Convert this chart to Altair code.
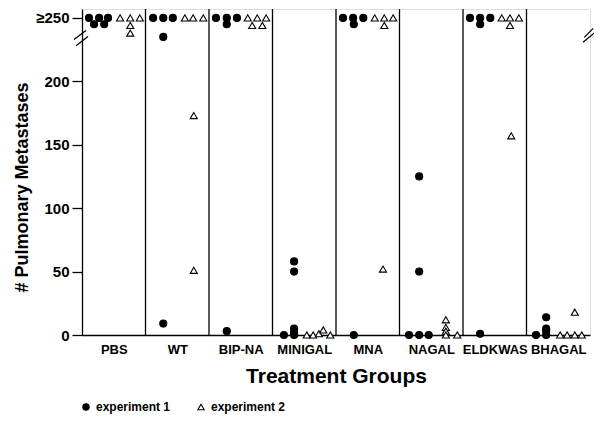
import altair as alt
import pandas as pd

groups = ["PBS", "WT", "BIP-NA", "MINIGAL", "MNA", "NAGAL", "ELDKWAS", "BHAGAL"]
series = ["experiment 1", "experiment 2"]

# experiment 1 (filled circles): group index, horizontal jitter within group, value
exp1_group = [0, 0, 0, 0, 0,
              1, 1, 1, 1, 1,
              2, 2, 2, 2, 2,
              3, 3, 3, 3, 3, 3,
              4, 4, 4, 4, 4,
              5, 5, 5, 5, 5,
              6, 6, 6, 6, 6,
              7, 7, 7, 7, 7]
exp1_jitter = [0.11, 0.27, 0.41, 0.19, 0.35,
               0.12, 0.28, 0.43, 0.28, 0.28,
               0.11, 0.28, 0.44, 0.28, 0.28,
               0.18, 0.34, 0.34, 0.34, 0.34, 0.34,
               0.11, 0.27, 0.43, 0.28, 0.28,
               0.15, 0.31, 0.46, 0.31, 0.31,
               0.11, 0.27, 0.43, 0.27, 0.27,
               0.15, 0.31, 0.31, 0.31, 0.31]
exp1_value = [250, 250, 250, 245, 245,
              250, 250, 250, 235, 9,
              250, 250, 250, 245, 3,
              0, 0, 2, 5, 50, 58,
              250, 250, 250, 245, 0,
              0, 0, 0, 50, 125,
              250, 250, 250, 245, 1,
              0, 0, 3, 5, 14]

# experiment 2 (open triangles)
exp2_group = [0, 0, 0, 0, 0,
              1, 1, 1, 1, 1,
              2, 2, 2, 2, 2,
              3, 3, 3, 3, 3,
              4, 4, 4, 4, 4,
              5, 5, 5, 5, 5,
              6, 6, 6, 6, 6,
              7, 7, 7, 7, 7]
exp2_jitter = [0.60, 0.76, 0.91, 0.76, 0.76,
               0.62, 0.75, 0.91, 0.76, 0.76,
               0.61, 0.76, 0.90, 0.68, 0.84,
               0.54, 0.64, 0.73, 0.80, 0.91,
               0.61, 0.76, 0.90, 0.76, 0.74,
               0.73, 0.73, 0.73, 0.73, 0.91,
               0.61, 0.74, 0.88, 0.74, 0.76,
               0.53, 0.64, 0.76, 0.87, 0.76]
exp2_value = [250, 250, 250, 244, 238,
              250, 250, 250, 173, 51,
              250, 250, 250, 244, 244,
              0, 0, 1, 4, 0,
              250, 250, 250, 244, 52,
              12, 6, 3, 0, 0,
              250, 250, 250, 244, 157,
              0, 0, 0, 0, 18]

y_ticks = [0, 50, 100, 150, 200, 250]

# axis-break marks (data units)
break_x = [-0.126, -0.094, 7.89, 7.91]
break_x2 = [0.063, 0.094, 8.08, 8.05]
break_y = [233, 228, 230.7, 234.6]
break_y2 = [240, 235.4, 238.6, 241.7]

rows = []
for g, j, v in zip(exp1_group, exp1_jitter, exp1_value):
    rows.append({"x": g + j, "value": v, "series": series[0]})
for g, j, v in zip(exp2_group, exp2_jitter, exp2_value):
    rows.append({"x": g + j, "value": v, "series": series[1]})
df = pd.DataFrame(rows)

sep_df = pd.DataFrame({"x": list(range(1, len(groups)))})
brk_df = pd.DataFrame({"x": break_x, "x2": break_x2, "y": break_y, "y2": break_y2})

FONT = "Liberation Sans"
label_expr = "[" + ",".join("'" + g + "'" for g in groups) + "][floor(datum.value)]"

x_scale = alt.Scale(domain=[0, len(groups)], nice=False, zero=False)
y_scale = alt.Scale(domain=[0, 257], nice=False)

x_axis = alt.Axis(
    values=[i + 0.5 for i in range(len(groups))],
    labelExpr=label_expr,
    ticks=False, tickSize=0, grid=False,
    labelFont=FONT, labelFontSize=13, labelFontWeight="bold", labelPadding=8,
    labelColor="black",
    title="Treatment Groups", titleFont=FONT, titleFontSize=21, titleFontWeight="bold",
    titlePadding=9, titleColor="black",
    domainColor="black", domainWidth=1.3,
)
y_axis = alt.Axis(
    values=y_ticks,
    labelExpr="datum.value >= 250 ? '≥250' : datum.label",
    tickSize=10, tickColor="black", tickWidth=1.3, grid=False,
    labelFont=FONT, labelFontSize=15, labelFontWeight="bold", labelPadding=3,
    labelColor="black",
    title="# Pulmonary Metastases", titleFont=FONT, titleFontSize=18,
    titleFontWeight="bold", titlePadding=4, titleColor="black", titleY=178,
    domainColor="black", domainWidth=1.3,
)

legend = alt.Legend(
    title=None, orient="none", legendX=-2, legendY=392, direction="horizontal",
    labelFont=FONT, labelFontSize=12, labelFontWeight="bold", labelColor="black",
    symbolSize=40, symbolStrokeWidth=1.1,
    columnPadding=24, labelOffset=4,
)

points = alt.Chart(df).mark_point(filled=True, stroke="black", strokeWidth=1.1, size=50, opacity=1).encode(
    x=alt.X("x:Q", scale=x_scale, axis=x_axis),
    y=alt.Y("value:Q", scale=y_scale, axis=y_axis),
    shape=alt.Shape("series:N", scale=alt.Scale(domain=series, range=["circle", "triangle-up"]), legend=legend),
    fill=alt.Fill("series:N", scale=alt.Scale(domain=series, range=["black", "white"]), legend=legend),
    stroke=alt.Stroke("series:N", scale=alt.Scale(domain=series, range=["black", "black"]), legend=legend),
)

seps = alt.Chart(sep_df).mark_rule(color="black", strokeWidth=1.3).encode(
    x=alt.X("x:Q", scale=x_scale),
)

breaks = alt.Chart(brk_df).mark_rule(color="black", strokeWidth=1.3).encode(
    x=alt.X("x:Q", scale=x_scale),
    x2="x2:Q",
    y=alt.Y("y:Q", scale=y_scale),
    y2="y2:Q",
)

chart = alt.layer(seps, breaks, points).properties(
    width=508, height=326,
    autosize=alt.AutoSizeParams(type="none"),
    padding={"left": 74, "top": 1, "right": 4, "bottom": 81},
).configure_view(stroke="black", strokeWidth=1.3).configure(background="white")

chart.save("out.html", embed_options={"renderer": "svg", "actions": False})
